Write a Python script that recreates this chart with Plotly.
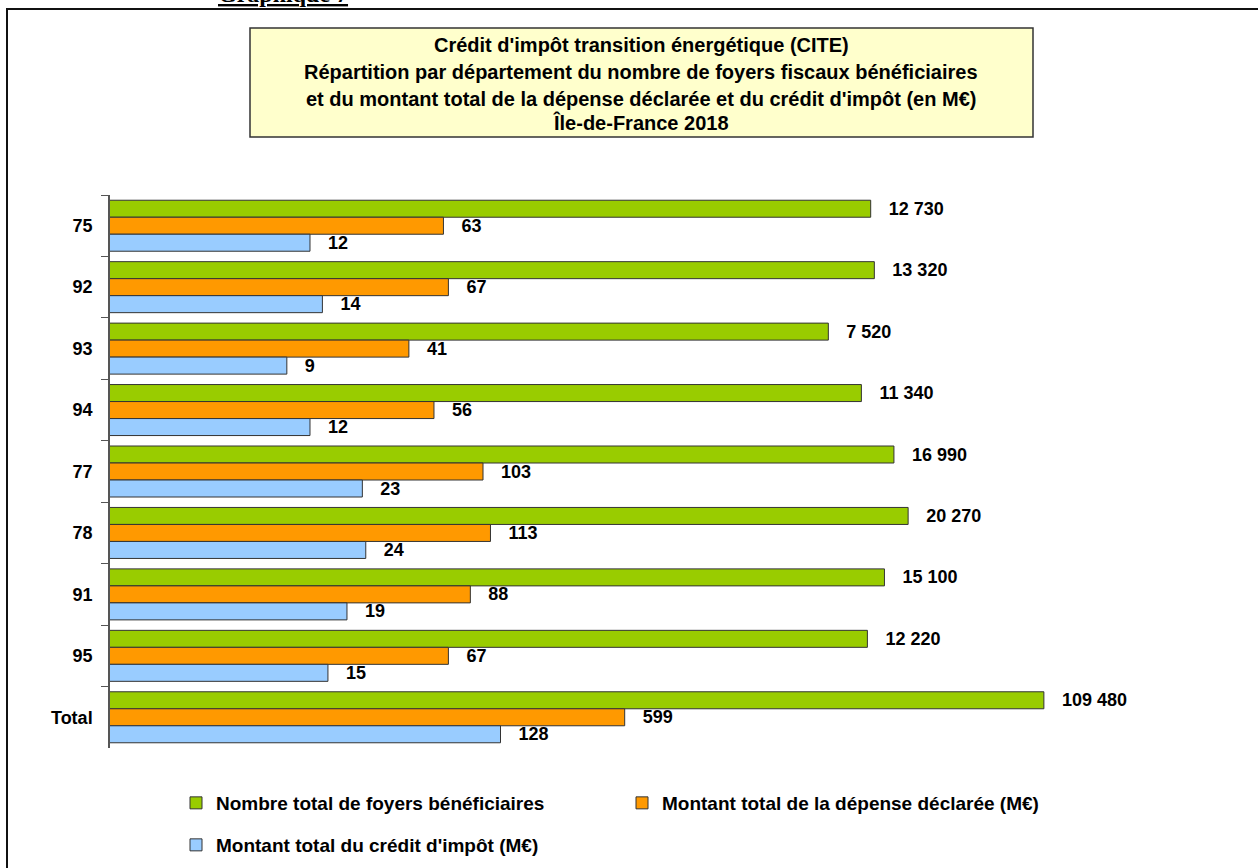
import plotly.graph_objects as go

# données : CITE, Île-de-France 2018
departements = ["75", "92", "93", "94", "77", "78", "91", "95", "Total"]
foyers = [12730, 13320, 7520, 11340, 16990, 20270, 15100, 12220, 109480]
depense = [63, 67, 41, 56, 103, 113, 88, 67, 599]
credit = [12, 14, 9, 12, 23, 24, 19, 15, 128]

noms_series = [
    "Nombre total de foyers bénéficiaires",
    "Montant total de la dépense déclarée (M€)",
    "Montant total du crédit d'impôt (M€)",
]
couleurs = ["#99CC00", "#FF9900", "#99CCFF"]

titre = [
    "Crédit d'impôt transition énergétique (CITE)",
    "Répartition par département du nombre de foyers fiscaux bénéficiaires",
    "et du montant total de la dépense déclarée et du crédit d'impôt (en M€)",
    "Île-de-France 2018",
]

W, H = 1258, 868
L, R, T, B = 110, 108, 195, 120
PW, PH = W - L - R, H - T - B
FONT = "Liberation Sans, Arial, sans-serif"


# pixel -> paper coordinates
def px_x(px):
    return (px - L) / PW


def px_y(py):
    return (H - B - py) / PH


def fmt(v):
    return "\u00a0\u00a0\u00a0" + f"{v:,}".replace(",", " ")


fig = go.Figure()
series = [foyers, depense, credit]
legendes = ["legend", "legend", "legend2"]
for vals, nom, coul, lg in zip(series, noms_series, couleurs, legendes):
    fig.add_trace(go.Bar(
        y=departements, x=vals, name=nom, orientation="h",
        marker=dict(color=coul, line=dict(color="#333333", width=1)),
        text=[fmt(v) for v in vals], textposition="outside",
        textfont=dict(family=FONT, size=18, color="black", weight="bold"),
        constraintext="none", cliponaxis=False, legend=lg,
    ))

fig.update_xaxes(type="log", range=[0, 5.612], visible=False, showgrid=False)
fig.update_yaxes(
    type="category", autorange="reversed", tickson="boundaries",
    ticks="outside", ticklen=7, tickcolor="#555555", showline=True,
    linecolor="#555555", linewidth=1.5, showgrid=False,
    tickfont=dict(family=FONT, size=18, color="black", weight="bold"),
    ticklabelstandoff=12,
)

shapes = [
    # cadre extérieur
    dict(type="rect", xref="paper", yref="paper",
         x0=px_x(7), x1=px_x(1275), y0=px_y(9), y1=px_y(890),
         line=dict(color="#111111", width=2), fillcolor="rgba(0,0,0,0)"),
    # encadré du titre
    dict(type="rect", xref="paper", yref="paper",
         x0=px_x(250), x1=px_x(1033), y0=px_y(28), y1=px_y(137),
         line=dict(color="#333333", width=1.5), fillcolor="#FFFFCC"),
]

annotations = [
    dict(text="<u>Graphique 7</u>", xref="paper", yref="paper",
         x=px_x(283), y=px_y(9), xanchor="center", yanchor="bottom",
         showarrow=False,
         font=dict(family="Liberation Serif, serif", size=24, color="black", weight="bold")),
]
for ligne, yc in zip(titre, [45, 72, 99, 123]):
    annotations.append(dict(
        text=ligne, xref="paper", yref="paper", x=px_x(641), y=px_y(yc),
        xanchor="center", yanchor="middle", showarrow=False,
        font=dict(family=FONT, size=20, color="black", weight="bold"),
    ))

fig.update_layout(
    width=W, height=H,
    margin=dict(l=L, r=R, t=T, b=B, autoexpand=False),
    paper_bgcolor="white", plot_bgcolor="white",
    barmode="group", bargap=0.17, bargroupgap=0,
    shapes=shapes, annotations=annotations,
    legend=dict(
        orientation="h", x=px_x(176), y=px_y(784), xanchor="left", yanchor="top",
        entrywidth=401, entrywidthmode="pixels",
        font=dict(family=FONT, size=19, color="black", weight="bold"),
        bgcolor="rgba(0,0,0,0)",
    ),
    legend2=dict(
        orientation="h", x=px_x(176), y=px_y(826), xanchor="left", yanchor="top",
        font=dict(family=FONT, size=19, color="black", weight="bold"),
        bgcolor="rgba(0,0,0,0)",
    ),
)

# la page ne doit pas décaler la figure (marge par défaut du body)
fig.write_html("out.html", config={"displayModeBar": False},
               post_script="document.body.style.margin='0px';")
